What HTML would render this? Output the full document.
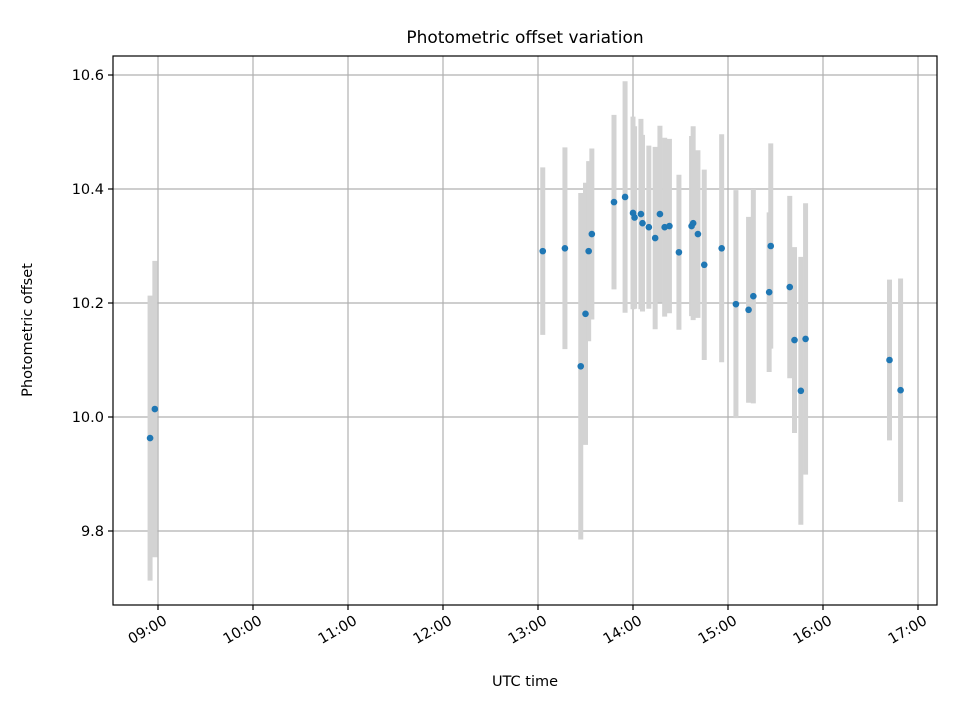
<!DOCTYPE html>
<html><head><meta charset="utf-8"><style>
body{margin:0;background:#fff}
svg text{font-family:"DejaVu Sans","Liberation Sans",sans-serif;fill:#000}
</style></head><body>
<svg id="chart" width="960" height="720" xmlns="http://www.w3.org/2000/svg">
<rect width="960" height="720" fill="#fff"/>
<g id="grid"></g>
<g id="errs"></g>
<g id="pts"></g>
<rect x="113" y="56" width="824" height="549" fill="none" stroke="#000" stroke-width="1.2"/>
<g id="axes"></g>
<text x="525" y="43" font-size="17" text-anchor="middle">Photometric offset variation</text>
<text x="525" y="686" font-size="14.5" text-anchor="middle">UTC time</text>
<text x="32" y="330" font-size="14.5" text-anchor="middle" transform="rotate(-90 32 330)">Photometric offset</text>
</svg>
<script>
const times=["08:55","08:58","13:03","13:17","13:27","13:30","13:32","13:34","13:48","13:55","14:00","14:01","14:05","14:06","14:10","14:14","14:17","14:20","14:23","14:29","14:37","14:38","14:41","14:45","14:56","15:05","15:13","15:16","15:26","15:27","15:39","15:42","15:46","15:49","16:42","16:49"];
const offsets=[9.963,10.014,10.291,10.296,10.089,10.181,10.291,10.321,10.377,10.386,10.358,10.350,10.356,10.340,10.333,10.314,10.356,10.333,10.335,10.289,10.335,10.340,10.321,10.267,10.296,10.198,10.188,10.212,10.219,10.300,10.228,10.135,10.046,10.137,10.100,10.047];
const errors=[0.250,0.260,0.147,0.177,0.304,0.230,0.158,0.150,0.153,0.203,0.169,0.160,0.167,0.155,0.143,0.160,0.155,0.157,0.153,0.136,0.158,0.170,0.147,0.167,0.200,0.200,0.163,0.188,0.140,0.180,0.160,0.163,0.235,0.238,0.141,0.196];
const xTicks=["09:00","10:00","11:00","12:00","13:00","14:00","15:00","16:00","17:00"];
const yTicks=[9.8,10.0,10.2,10.4,10.6];
const NS="http://www.w3.org/2000/svg";
function hrs(s){const p=s.split(":");return +p[0]+p[1]/60;}
function xs(h){return 158+(h-9)*95;}
function ys(v){return 417-(v-10)*570;}
function mk(tag,at,parent){const e=document.createElementNS(NS,tag);for(const k in at)e.setAttribute(k,at[k]);(typeof parent==="string"?document.getElementById(parent):parent).appendChild(e);return e;}
xTicks.forEach(t=>{const x=xs(hrs(t));
 const g=mk("line",{x1:x,x2:x,y1:56,y2:605,stroke:"#b0b0b0","stroke-width":1.2},"grid");
 
 
 const tk=mk("line",{x1:x,x2:x,y1:605,y2:610,stroke:"#000","stroke-width":1.2},"axes");
 
 
 const grp=mk("g",{transform:`translate(${x+4} 613) rotate(-30)`},"axes");
 const tx=mk("text",{x:0,y:12,"font-size":14.5,"text-anchor":"end"},grp);
 tx.textContent=t;
 
 
});
yTicks.forEach(v=>{const y=ys(v);
 const g=mk("line",{x1:113,x2:937,y1:y,y2:y,stroke:"#b0b0b0","stroke-width":1.2},"grid");
 
 
 const tk=mk("line",{x1:108,x2:113,y1:y,y2:y,stroke:"#000","stroke-width":1.2},"axes");
 
 
 const tx=mk("text",{x:104,y:y+5,"font-size":14.5,"text-anchor":"end"},"axes");
 tx.textContent=v.toFixed(1);
 
 
});
times.forEach((t,i)=>{const x=xs(hrs(t));
 const e=mk("line",{x1:x,x2:x,y1:ys(offsets[i]+errors[i]),y2:ys(offsets[i]-errors[i]),stroke:"#d3d3d3","stroke-width":5},"errs");
 
 
});
times.forEach((t,i)=>{
 const c=mk("circle",{cx:xs(hrs(t)),cy:ys(offsets[i]),r:3.3,fill:"#1f77b4"},"pts");
 
 
});
</script>
</body></html>
